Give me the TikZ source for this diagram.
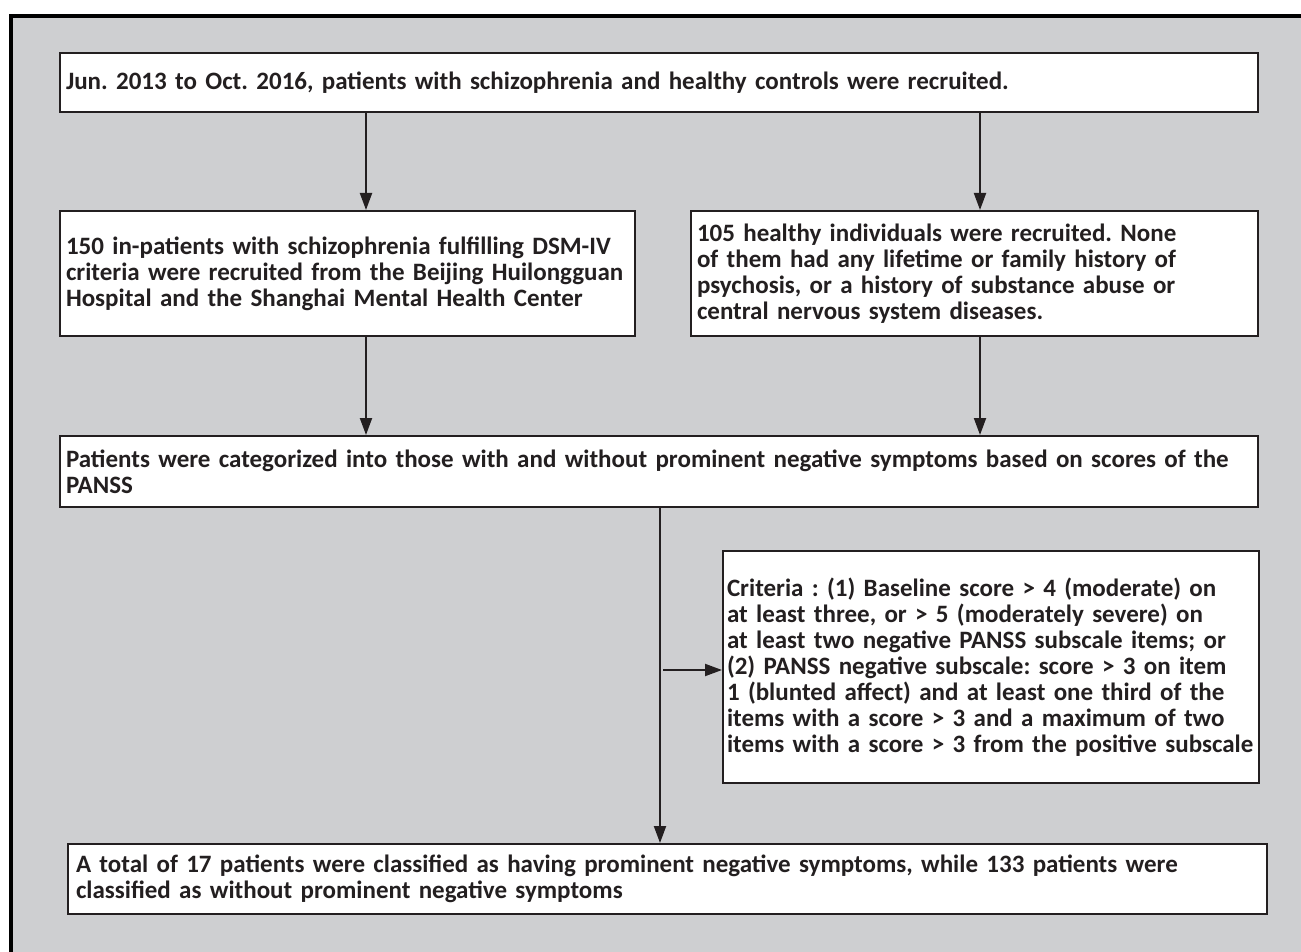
\documentclass[tikz,border=0pt]{standalone}
\usepackage{fontspec}
\setmainfont{Carlito}
\usepackage{tikz}
\usetikzlibrary{arrows.meta}
\definecolor{bggray}{RGB}{206,207,209}
\definecolor{ink}{RGB}{35,31,32}
\frenchspacing
\hfuzz=6pt
\hyphenpenalty=10000
\exhyphenpenalty=10000

\begin{document}
\begin{tikzpicture}[x=0.5pt,y=-0.5pt,
  box/.style = {draw=ink,line width=1pt,fill=white,anchor=north west,
        inner xsep=3pt,inner ysep=2pt,align=left,text=ink,
        font=\fontsize{12.5}{13}\selectfont\bfseries},
  arr/.style = {draw=ink,line width=1pt,-{Triangle[length=8.5pt,width=6pt]}}]
 \useasboundingbox (0,0) rectangle (1301,952);
 \fill[bggray] (11,16) rectangle (1301,952);
 \draw[line width=2pt] (11,952) -- (11,16) -- (1301,16);
 \node[box,text width=593pt,minimum height=29.5pt] (top) at (59,52)
   {Jun. 2013 to Oct. 2016, patients with schizophrenia and healthy controls were recruited.};
 \node[box,text width=281.5pt,minimum height=62.5pt] (patients) at (59,210)
   {150 in-patients with schizophrenia fulfilling DSM-IV\\
   criteria were recruited from the Beijing Huilongguan\\
   Hospital and the Shanghai Mental Health Center};
 \node[box,text width=277.5pt,minimum height=62.5pt] (controls) at (690,210)
   {105 healthy individuals were recruited. None\\
   of them had any lifetime or family history of\\
   psychosis, or a history of substance abuse or\\
   central nervous system diseases.};
 \node[box,text width=593pt,minimum height=35.5pt] (categ) at (59,435)
   {Patients were categorized into those with and without prominent negative symptoms based on scores of the\\
   PANSS};
 \node[box,text width=264pt,inner xsep=2pt,minimum height=116pt] (criteria) at (722,550)
   {Criteria : (1) Baseline score > 4 (moderate) on\\
   at least three, or > 5 (moderately severe) on\\
   at least two negative PANSS subscale items; or\\
   (2) PANSS negative subscale: score > 3 on item\\
   1 (blunted affect) and at least one third of the\\
   items with a score > 3 and a maximum of two\\
   items with a score > 3 from the positive subscale};
 \node[box,text width=591.5pt,minimum height=35pt,inner xsep=4pt] (result) at (67,843)
   {A total of 17 patients were classified as having prominent negative symptoms, while 133 patients were\\
   classified as without prominent negative symptoms};
 % arrow columns
 \coordinate (lx) at (366,0);
 \coordinate (rx) at (980,0);
 \coordinate (mx) at (660,0);
 \coordinate (tap) at (663,670);
 \draw[arr] (lx |- top.south) -- (lx |- patients.north);
 \draw[arr] (rx |- top.south) -- (rx |- controls.north);
 \draw[arr] (lx |- patients.south) -- (lx |- categ.north);
 \draw[arr] (rx |- controls.south) -- (rx |- categ.north);
 \draw[arr] (mx |- categ.south) -- (mx |- result.north);
 \draw[arr] (tap) -- (tap -| criteria.west);
\end{tikzpicture}
\end{document}
